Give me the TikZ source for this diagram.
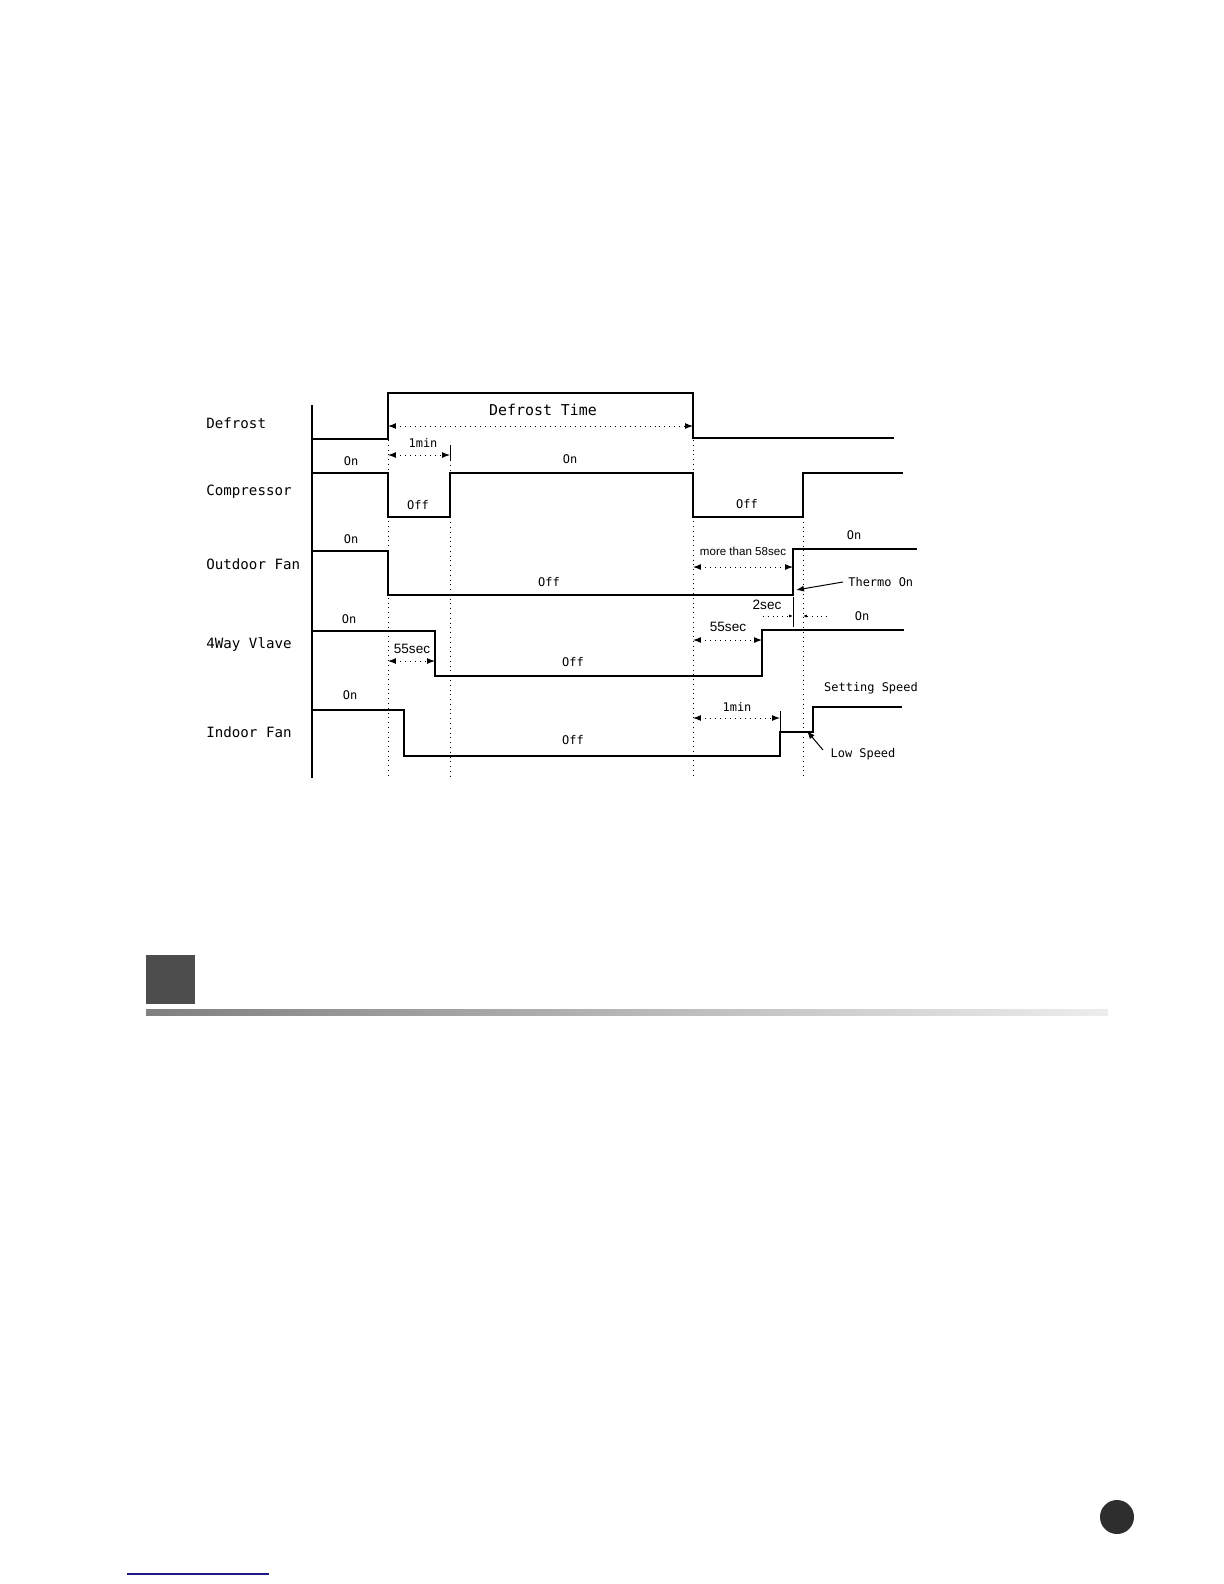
\documentclass[tikz,border=0pt]{standalone}
\usepackage{fontspec}
\usetikzlibrary{arrows.meta}
\newfontfamily\monofont{DejaVu Sans Mono}
\newfontfamily\arialfont{Liberation Sans}
\definecolor{tabgray}{HTML}{4D4D4D}
\definecolor{linkblue}{HTML}{1A1A80}

\begin{document}
\begin{tikzpicture}[
			x=0.5bp, y=-0.5bp,
			signal/.style={line width=1.1pt},
			guide/.style={dotted, line width=0.4pt},
			span/.style={dotted, line width=0.5pt, {Latex[length=4pt,width=3pt]}-{Latex[length=4pt,width=3pt]}},
			pointer/.style={line width=0.5pt, -{Latex[length=4pt,width=3pt]}},
			rowlabel/.style={anchor=west, inner sep=0pt, font=\monofont\fontsize{7.1}{8}\selectfont},
			state/.style={inner sep=0pt, font=\monofont\fontsize{6}{7}\selectfont},
			small/.style={inner sep=0pt, font=\arialfont\fontsize{6.8}{8}\selectfont}
			]
			\useasboundingbox (0,0) rectangle (1224,1584);
			
			% Row labels
			\node[rowlabel] (defrost) at (206,423) {Defrost};
			\node[rowlabel] (comp) at (206,492) {Compressor};
			\node[rowlabel] (outfan) at (206,564) {Outdoor Fan};
			\node[rowlabel] (valve) at (206,645) {4Way Vlave};
			\node[rowlabel] (infan) at (206,732) {Indoor Fan};
			
			% Axis and guide lines
			\draw[line width=0.6pt] (312,405) -- (312,778);
			\draw[guide] (388,440) -- (388,776);
			\draw[guide] (450,460) -- (450,776);
			\draw[guide] (693,440) -- (693,776);
			\draw[guide] (803,517) -- (803,776);
			
			% Signals
			\draw[signal] (312,439) -- (388,439) -- (388,393) -- (693,393) -- (693,438) -- (894,438);
			\draw[signal] (312,473) -- (388,473) -- (388,517) -- (450,517) -- (450,473) -- (693,473) -- (693,517) -- (803,517) -- (803,473) -- (903,473);
			\draw[signal] (312,551) -- (388,551) -- (388,595) -- (793,595) -- (793,549) -- (917,549);
			\draw[signal] (312,631) -- (435,631) -- (435,676) -- (762,676) -- (762,630) -- (904,630);
			\draw[signal] (312,710) -- (404,710) -- (404,756) -- (780,756) -- (780,732) -- (813,732) -- (813,707) -- (902,707);
			
			% States
			\node[state] (comp on) at (351,461) {On};
			\node[state] (comp off) at (418,505) {Off};
			\node[state] (comp on2) at (570,459) {On};
			\node[state] (comp off2) at (747,504) {Off};
			\node[state] (outfan on) at (351,539) {On};
			\node[state] (outfan off) at (549,582) {Off};
			\node[state] (outfan on2) at (854,535) {On};
			\node[state] (valve on) at (349,619) {On};
			\node[state] (valve off) at (573,662) {Off};
			\node[state] (valve on2) at (862,616) {On};
			\node[state] (infan on) at (350,695) {On};
			\node[state] (infan off) at (573,740) {Off};
			
			% Times
			\node[inner sep=0pt, font=\monofont\fontsize{7.5}{8}\selectfont] (deftime) at (543,410) {Defrost Time};
			\draw[span] (388,426) -- (693,426);
			\node[state] (min a) at (423,443) {1min};
			\draw[line width=0.5pt] (450,445) -- (450,460);
			\draw[span] (388,455) -- (450,455);
			\node[inner sep=0pt, font=\arialfont\fontsize{5.8}{7}\selectfont] (more) at (743,551) {more than 58sec};
			\draw[span] (693,567) -- (793,567);
			\node[small] (sec a) at (412,649) {55sec};
			\draw[span] (388,661) -- (435,661);
			\node[small] (sec b) at (728,627) {55sec};
			\draw[span] (693,640) -- (762,640);
			\node[state] (min b) at (737,707) {1min};
			\draw[line width=0.5pt] (780,711) -- (780,732);
			\draw[span] (693,718) -- (780,718);
			
			% 2sec gap
			\node[small] (sec c) at (767,605) {2sec};
			\draw[line width=0.5pt] (793,597) -- (793,627);
			\draw[guide, -{Latex[length=2pt,width=1.6pt]}] (763,616) -- (793,616);
			\draw[guide, -{Latex[length=2pt,width=1.6pt]}] (827,616) -- (803,616);
			
			% Notes
			\node[state, anchor=west] (thermo) at (848,582) {Thermo On};
			\coordinate (thermo tip) at (796,590);
			\draw[pointer] (thermo.west) ++(-5,0) -- (thermo tip);
			\node[state] (setting) at (871,688) {Setting Speed};
			\node[state] (low) at (863,754) {Low Speed};
			\coordinate (low tip) at (807,731);
			\draw[pointer] (823,750) -- (low tip);
			
			% Page marks
			\fill[tabgray] (146,955) rectangle (195,1004);
			\shade[left color=black!50, right color=black!7] (146,1009) rectangle (1108,1015);
			\fill[black!82] (1117,1517) circle (17);
			\draw[linkblue, line width=0.6pt] (127,1574) -- (269,1574);
		\end{tikzpicture}
\end{document}
